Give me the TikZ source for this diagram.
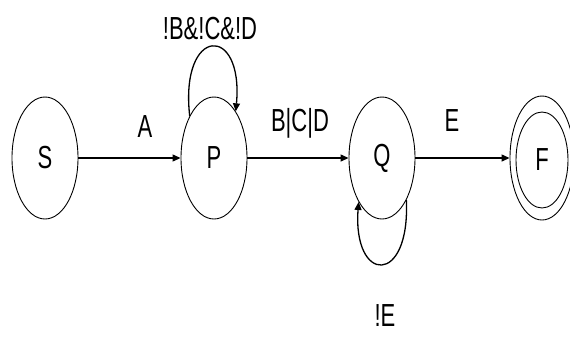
\documentclass[tikz,border=0pt]{standalone}
\usepackage{fontspec}
\setmainfont{Liberation Sans}
\usetikzlibrary{arrows.meta,shapes.geometric}
\newcommand{\vtxt}[1]{\scalebox{1}[1.45]{#1}}
\begin{document}
\begin{tikzpicture}[x=1pt,y=-1pt,
  state/.style={draw,ellipse,line width=0.9pt,minimum width=66pt,minimum height=122pt,inner sep=0pt,font=\fontsize{22}{26}\selectfont},
  lbl/.style={inner sep=0pt,font=\fontsize{22}{26}\selectfont},
  tr/.style={line width=1.3pt,-{Triangle[length=8pt,width=7pt]}}]
\path[use as bounding box] (0,0) rectangle (570,343);
\node[state] (S) at (45,158) {\vtxt{S}};
\node[state] (P) at (214,158) {\vtxt{P}};
\node[state] (Q) at (382,158) {\vtxt{Q}};
\node[state,minimum width=64pt,minimum height=124pt] (F) at (542,158) {};
\node[draw,ellipse,line width=0.9pt,minimum width=52pt,minimum height=96pt,inner sep=0pt] (Fi) at (542,160) {};
\node[lbl] (Ft) at (542,160) {\vtxt{F}};
\draw[tr] (S) -- (P);
\draw[tr] (P) -- (Q);
\draw[tr] (Q) -- (F);
\draw[tr] (P.120) .. controls +(-10,-90) and +(8,-88) .. (P.65);
\draw[tr] (Q.-60) .. controls +(4,86) and +(-6,82) .. (Q.-118);
\node[lbl] (la) at (145,127) {\vtxt{A}};
\node[lbl] (lbcd) at (300,123) {\vtxt{B|C|D}};
\node[lbl] (le) at (452,121) {\vtxt{E}};
\node[lbl] (lp) at (210,29) {\vtxt{!B\&!C\&!D}};
\node[lbl] (lq) at (385,316) {\vtxt{!E}};
\end{tikzpicture}
\end{document}
